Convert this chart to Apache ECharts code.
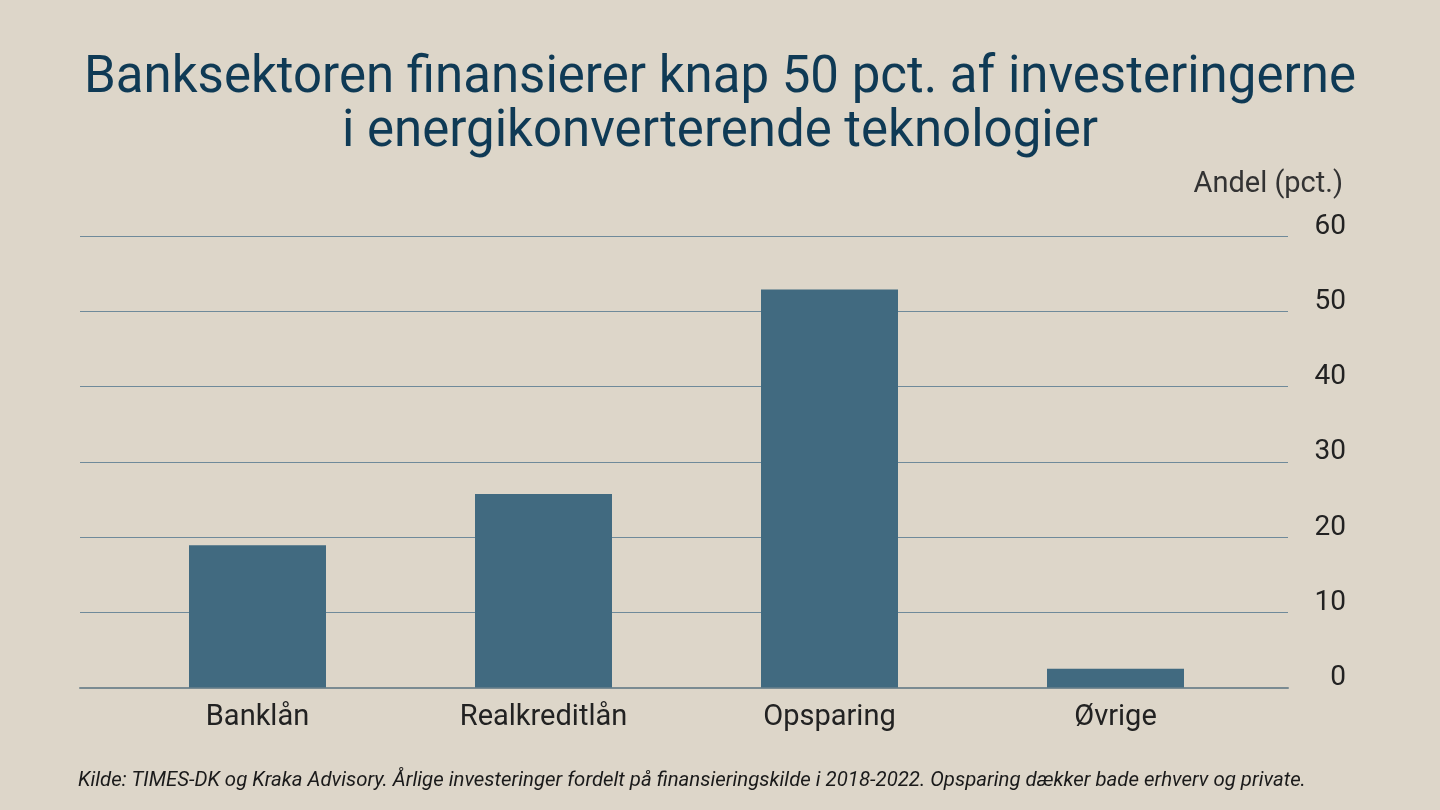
<!DOCTYPE html>
<html>
<head>
<meta charset="utf-8">
<script src="https://cdn.jsdelivr.net/npm/echarts@6/dist/echarts.min.js"></script>
<style>
html,body{margin:0;padding:0;background:#ddd6c9;}
#c{width:1440px;height:810px;}
</style>
</head>
<body>
<div id="c"></div>
<script>
const categories = ['Banklån', 'Realkreditlån', 'Opsparing', 'Øvrige'];
const values = [18.9, 25.7, 52.9, 2.5];
const yTicks = [0, 10, 20, 30, 40, 50, 60];

const titleLines = ['Banksektoren finansierer knap 50 pct. af investeringerne', 'i energikonverterende teknologier'];
const unitLabel = 'Andel (pct.)';
const sourceText = 'Kilde: TIMES-DK og Kraka Advisory. Årlige investeringer fordelt på finansieringskilde i 2018-2022. Opsparing dækker bade erhverv og private.';

const FONT = 'Roboto';
const chart = echarts.init(document.getElementById('c'));
const gTop = 236, gHeight = 451.5;
chart.setOption({
  backgroundColor: '#ddd6c9',
  animation: false,
  title: {
    text: titleLines.join('\n'),
    left: 'center',
    top: 52,
    padding: 0,
    textStyle: {fontFamily: FONT, fontSize: 51, fontWeight: 'normal', color: '#0f3a55', lineHeight: 54}
  },
  graphic: [
    {type: 'text', right: 97, top: 170, style: {text: unitLabel, font: '29px ' + FONT, fill: '#333'}},
    {type: 'text', left: 78, top: 771, style: {text: sourceText, font: 'italic 20.4px ' + FONT, fill: '#1a1a1a'}}
  ],
  grid: [
    {left: 80, width: 1208, top: gTop, height: gHeight},
    {left: 114.5, width: 1144, top: gTop, height: gHeight}
  ],
  xAxis: [
    {gridIndex: 0, type: 'value', min: 0, max: 1, show: true, axisLabel: {show: false}, axisTick: {show: false}, splitLine: {show: false},
     axisLine: {show: true, lineStyle: {color: '#7a8b92', width: 2}}},
    {gridIndex: 1, type: 'category', data: categories, axisLine: {show: false}, axisTick: {show: false},
     axisLabel: {fontFamily: FONT, fontSize: 29, color: '#222', margin: 16}}
  ],
  yAxis: [
    {gridIndex: 0, type: 'value', min: yTicks[0], max: yTicks[yTicks.length - 1], interval: 10, position: 'right',
     axisLine: {show: false}, axisTick: {show: false},
     axisLabel: {fontFamily: FONT, fontSize: 28, color: '#222', align: 'right', margin: 58, verticalAlign: 'bottom', lineHeight: 19},
     splitLine: {lineStyle: {color: '#6f8a9a', width: 1}}},
    {gridIndex: 1, type: 'value', min: 0, max: 60, show: false, splitLine: {show: false}}
  ],
  series: [{
    type: 'bar', xAxisIndex: 1, yAxisIndex: 1, data: values, barWidth: 137,
    itemStyle: {color: '#416a80'}, z: 1
  }]
});
</script>
</body>
</html>
